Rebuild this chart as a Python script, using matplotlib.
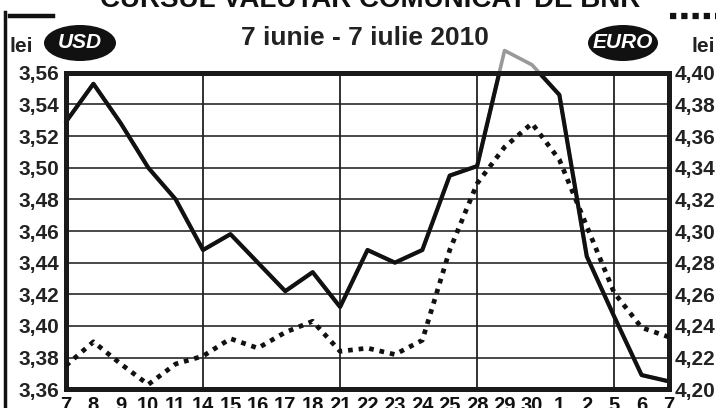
import matplotlib
matplotlib.use("Agg")
import matplotlib.pyplot as plt
import matplotlib.patches as mpatches
import matplotlib.lines as mlines
import pandas as pd

plt.rcParams['font.family'] = ['Liberation Sans', 'DejaVu Sans']
plt.rcParams['font.weight'] = 'bold'

# ---- data ----
days = ["7", "8", "9", "10", "11", "14", "15", "16", "17", "18", "21", "22",
        "23", "24", "25", "28", "29", "30", "1", "2", "5", "6", "7"]
dates = pd.bdate_range("2010-06-07", "2010-07-07")
usd = [3.529, 3.553, 3.528, 3.500, 3.480, 3.448, 3.458, 3.440, 3.422, 3.434,
       3.412, 3.448, 3.440, 3.448, 3.495, 3.501, 3.574, 3.565, 3.546, 3.444,
       3.406, 3.369, 3.365]
eur = [4.215, 4.230, 4.216, 4.203, 4.216, 4.221, 4.232, 4.226, 4.236, 4.243,
       4.224, 4.226, 4.222, 4.231, 4.288, 4.330, 4.353, 4.368, 4.345, 4.303,
       4.261, 4.239, 4.233]
usd_ticks = [3.36, 3.38, 3.40, 3.42, 3.44, 3.46, 3.48, 3.50, 3.52, 3.54, 3.56]
eur_ticks = [4.20, 4.22, 4.24, 4.26, 4.28, 4.30, 4.32, 4.34, 4.36, 4.38, 4.40]
title_top = "CURSUL VALUTAR COMUNICAT DE BNR"
subtitle = "7 iunie - 7 iulie 2010"

W, H = 720, 408
fig = plt.figure(figsize=(W / 100, H / 100), dpi=100)
ax = fig.add_axes([66 / W, (H - 389.3) / H, (669 - 66) / W, (389.3 - 72.7) / H])
ax2 = ax.twinx()

x = list(range(len(days)))

# left axis (USD) + grid
ax.set_ylim(usd_ticks[0], usd_ticks[-1])
ax.set_xlim(0, len(days) - 1)
ax.set_yticks(usd_ticks)
ax.set_yticklabels([f"{v:.2f}".replace(".", ",") for v in usd_ticks])
ax.grid(axis="y", color="#3a3a3a", linewidth=1.3)
ax.set_axisbelow(True)
for i in range(1, len(dates)):
    if dates[i].weekday() == 0:
        ax.axvline(i, color="#222222", linewidth=1.3, zorder=1)

ax.set_xticks(x)
ax.set_xticklabels(days)
ax.tick_params(axis="x", length=0, pad=5, labelsize=14.5, labelcolor="#111")
ax.tick_params(axis="y", length=0, pad=5, labelsize=15, labelcolor="#222")

# right axis (EURO)
ax2.set_ylim(eur_ticks[0], eur_ticks[-1])
ax2.set_yticks(eur_ticks)
ax2.set_yticklabels([f"{v:.2f}".replace(".", ",") for v in eur_ticks])
ax2.tick_params(axis="y", length=0, pad=4, labelsize=15, labelcolor="#222")

for a in (ax, ax2):
    for s in a.spines.values():
        s.set_linewidth(3.6)
        s.set_color("#1a1a1a")

# USD: grey where it leaves the frame, black inside
ax.plot(x, usd, color="#999999", linewidth=2.6, clip_on=False, zorder=2)
ax.plot(x, usd, color="#111111", linewidth=3.0, zorder=4)
# EURO dotted
ax2.plot(x, eur, color="#111111", linewidth=3.4, linestyle=(0, (1, 1.25)),
         dash_capstyle="butt", zorder=3)

# ---- header ----
fig.text(370 / W, (H - 7) / H, title_top, ha="center", va="baseline",
         fontsize=20, fontweight="bold", color="#111")
fig.text(365 / W, (H - 38) / H, subtitle, ha="center", va="center",
         fontsize=19, fontweight="bold", color="#222")

fig.add_artist(mlines.Line2D([5 / W, 5 / W], [0, (H - 12) / H], color="#111",
                             linewidth=2.5, transform=fig.transFigure))
fig.add_artist(mlines.Line2D([10 / W, 53 / W], [(H - 16) / H, (H - 16) / H],
                             color="#111", linewidth=3.2,
                             transform=fig.transFigure))
fig.add_artist(mlines.Line2D([670 / W, 716 / W], [(H - 16) / H, (H - 16) / H],
                             color="#111", linewidth=4.5,
                             linestyle=(0, (1, 0.8)), dash_capstyle="butt",
                             transform=fig.transFigure))

fig.text(21 / W, (H - 46) / H, "lei", ha="center", va="center",
         fontsize=15, fontweight="bold", color="#222")
fig.text(703 / W, (H - 46) / H, "lei", ha="center", va="center",
         fontsize=15, fontweight="bold", color="#222")

for cx, lab, w in ((80, "USD", 72), (623, "EURO", 70)):
    e = mpatches.Ellipse((cx / W, (H - 43) / H), w / W, 36 / H,
                         transform=fig.transFigure, facecolor="#111",
                         edgecolor="none")
    fig.add_artist(e)
    fig.text(cx / W, (H - 43) / H, lab, ha="center", va="center",
             fontsize=15, fontweight="bold", fontstyle="italic", color="white")

fig.savefig("out.png", dpi=100)
